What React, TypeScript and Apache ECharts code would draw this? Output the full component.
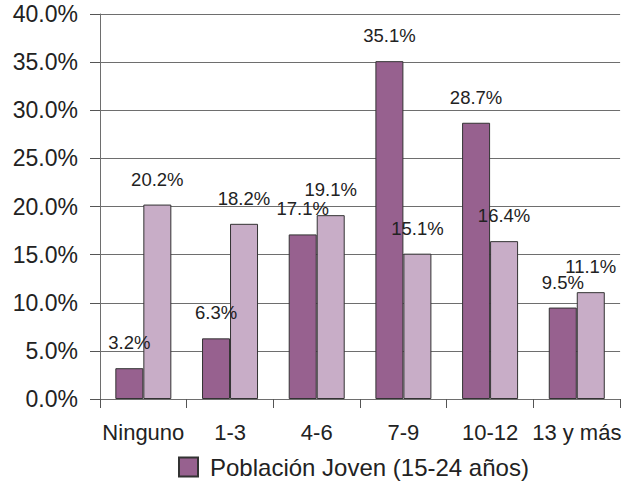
import React, { useEffect, useRef } from "react";
import * as echarts from "echarts";

const categories = ["Ninguno", "1-3", "4-6", "7-9", "10-12", "13 y más"];
const jovenName = "Población Joven (15-24 años)";
const jovenValues = [3.2, 6.3, 17.1, 35.1, 28.7, 9.5];
const otraName = "Población Total";
const otraValues = [20.2, 18.2, 19.1, 15.1, 16.4, 11.1];
const yMin = 0;
const yMax = 40;
const yInterval = 5;

const FONT = "'Liberation Sans', Arial, sans-serif";

export default function App() {
  const ref = useRef<HTMLDivElement>(null);
  useEffect(() => {
    if (!ref.current) return;
    const chart = echarts.init(ref.current, undefined, { renderer: "svg" });
    const labelCfg = {
      show: true,
      position: "top",
      distance: 16,
      fontSize: 18.5,
      color: "#222",
      fontFamily: FONT,
      formatter: (p: any) => Number(p.value).toFixed(1) + "%",
    };
    chart.setOption({
      animation: false,
      backgroundColor: "#fff",
      textStyle: { fontFamily: FONT },
      grid: { left: 100, top: 14, width: 525, height: 385 },
      legend: {
        data: [jovenName],
        left: 178,
        top: 455,
        padding: 0,
        itemWidth: 19,
        itemHeight: 19,
        itemGap: 10,
        textStyle: {
          fontSize: 24,
          lineHeight: 24,
          color: "#222",
          fontFamily: FONT,
          padding: [0, 0, 0, 7],
        },
        icon: "rect",
      },
      xAxis: {
        type: "category",
        data: categories,
        axisLine: { show: true, lineStyle: { color: "#6e6e6e", width: 1 } },
        axisTick: { show: true, length: 9, alignWithLabel: false, lineStyle: { color: "#555" } },
        axisLabel: { fontSize: 22, color: "#222", margin: 22, fontFamily: FONT, interval: 0 },
        splitLine: { show: false },
      },
      yAxis: {
        type: "value",
        min: yMin,
        max: yMax,
        interval: yInterval,
        axisLine: { show: true, lineStyle: { color: "#6e6e6e", width: 1 } },
        axisTick: { show: true, length: 10, lineStyle: { color: "#555" } },
        axisLabel: {
          fontSize: 23,
          color: "#222",
          margin: 22,
          fontFamily: FONT,
          formatter: (v: number) => v.toFixed(1) + "%",
        },
        splitLine: { show: true, lineStyle: { color: "#6e6e6e", width: 1 } },
      },
      series: [
        {
          name: jovenName,
          type: "bar",
          data: jovenValues,
          barWidth: 28,
          barGap: "0%",
          itemStyle: { color: "#97618F", borderColor: "#333", borderWidth: 1 },
          label: labelCfg,
        },
        {
          name: otraName,
          type: "bar",
          data: otraValues,
          barWidth: 28,
          barGap: "0%",
          itemStyle: { color: "#C8ADC7", borderColor: "#333", borderWidth: 1 },
          label: labelCfg,
        },
      ],
    });
    return () => chart.dispose();
  }, []);
  return (
    <div
      ref={ref}
      style={{ position: "fixed", left: 0, top: 0, width: 624, height: 483 }}
    />
  );
}
